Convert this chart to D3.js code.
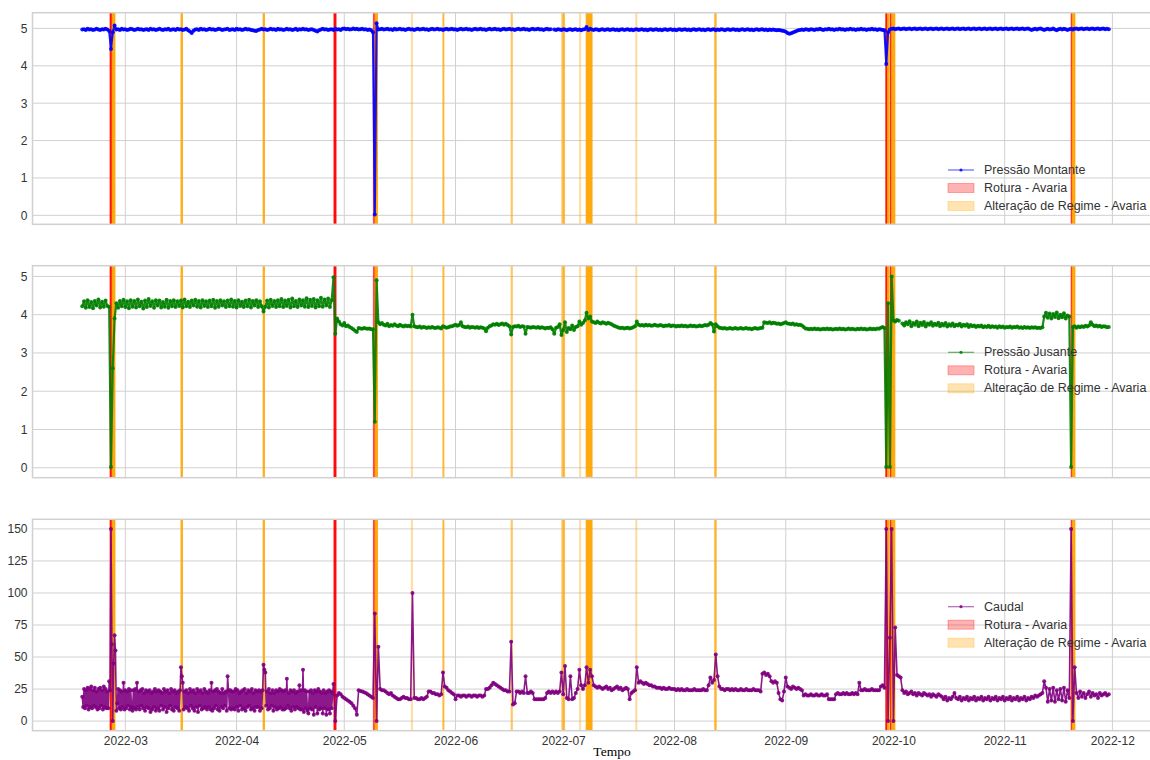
<!DOCTYPE html>
<html>
<head>
<meta charset="utf-8">
<script src="https://cdn.jsdelivr.net/npm/d3@7"></script>
<style>
  html, body { margin: 0; padding: 0; background: #ffffff; }
  svg { display: block; }
</style>
</head>
<body>
<svg id="chart" width="1150" height="760"></svg>
<script>
// Pressões: leituras de 12 em 12 horas a partir do primeiro registo
const inicio = "2022-02-17T00:00";
const passoHoras = 12;

// Pressão a montante (bar), uma linha por semana
const pressaoMontante = [
  4.97,4.98,4.96,4.99,4.97,4.98,4.96,4.97,4.99,4.97,4.96,4.98,4.97,4.99,
  4.97,4.93,4.45,4.90,5.08,4.97,4.98,4.96,4.99,4.97,4.98,4.96,4.97,4.99,
  4.98,4.96,4.97,4.99,4.97,4.98,4.96,4.97,4.98,4.96,4.99,4.97,4.98,4.96,
  4.97,4.99,4.97,4.96,4.98,4.97,4.99,4.96,4.97,4.98,4.96,4.99,4.97,4.98,
  4.96,4.97,4.99,4.95,4.92,4.88,4.94,4.97,4.98,4.96,4.99,4.97,4.98,4.96,
  4.97,4.99,4.97,4.98,4.96,4.97,4.99,4.98,4.96,4.97,4.98,4.99,4.96,4.97,
  4.98,4.96,4.99,4.97,4.98,4.96,4.97,4.99,4.97,4.98,4.96,4.95,4.94,4.93,
  4.96,4.97,4.99,4.97,4.98,4.96,4.97,4.99,4.97,4.98,4.96,4.99,4.97,4.98,
  4.96,4.97,4.99,4.97,4.98,4.96,4.97,4.99,4.96,4.98,4.97,4.99,4.97,4.98,
  4.96,4.97,4.98,4.96,4.94,4.92,4.95,4.97,4.99,4.97,4.98,4.96,4.97,4.98,
  4.96,4.99,4.97,4.98,4.96,4.99,5.00,4.98,4.99,4.97,4.98,5.00,4.98,4.99,
  4.97,4.98,4.99,4.97,4.98,4.96,4.97,4.95,4.90,0.02,5.14,4.97,4.98,4.99,
  4.97,4.98,4.99,4.97,4.98,4.96,4.99,4.97,4.98,4.99,4.97,4.98,4.96,4.98,
  4.99,4.97,4.98,4.96,4.98,4.99,4.97,4.98,4.99,4.97,4.98,4.96,4.98,4.99,
  4.97,4.98,4.99,4.97,4.98,4.96,4.98,4.99,4.97,4.98,4.99,4.97,4.98,4.96,
  4.98,4.99,4.97,4.98,4.99,4.97,4.98,4.96,4.98,4.99,4.97,4.98,4.99,4.97,
  4.98,4.96,4.98,4.99,4.97,4.98,4.99,4.97,4.98,4.96,4.98,4.99,4.97,4.98,
  4.99,4.97,4.98,4.96,4.98,4.99,4.97,4.98,4.99,4.97,4.98,4.96,4.98,4.99,
  4.97,4.98,4.99,4.97,4.98,4.96,4.98,4.99,4.97,4.98,null,4.97,4.96,4.98,
  4.97,4.96,4.98,4.97,4.95,4.97,4.98,4.96,4.97,4.98,4.96,4.97,4.95,4.97,
  4.98,5.04,4.96,4.99,4.97,4.96,4.98,4.97,4.95,4.97,4.98,4.96,4.97,4.98,
  4.96,4.97,4.98,4.96,4.97,4.95,4.97,4.98,4.96,4.97,4.98,4.96,4.97,4.95,
  4.97,4.98,4.96,4.97,4.98,4.96,4.97,4.95,4.97,4.98,4.96,4.97,4.98,4.96,
  4.97,4.95,4.97,4.98,4.96,4.97,4.98,4.96,4.97,4.95,4.97,4.98,4.96,4.97,
  4.98,4.96,4.97,4.95,4.97,4.98,4.96,4.97,4.98,4.96,4.97,4.95,4.97,4.98,
  4.96,4.97,4.98,4.95,4.97,4.96,4.98,4.97,4.95,4.97,4.98,4.96,4.97,4.98,
  4.96,4.97,4.95,4.97,4.98,4.96,4.97,4.98,4.96,4.97,4.95,4.97,4.98,4.96,
  4.97,4.98,4.96,4.97,4.95,4.97,4.96,4.97,4.96,4.95,4.96,4.95,4.94,4.93,
  4.91,4.88,4.86,4.87,4.89,4.91,4.93,4.95,4.96,4.97,4.96,4.98,4.97,4.96,
  4.98,4.97,4.96,4.98,4.97,4.99,4.97,4.96,4.98,4.97,4.99,4.97,4.98,4.96,
  4.98,4.97,4.99,4.97,4.98,4.96,4.98,4.97,4.99,4.97,4.98,4.96,4.98,4.97,
  4.99,4.97,4.98,4.96,4.98,4.97,4.99,4.97,4.98,4.96,4.98,4.97,4.96,4.95,
  4.05,4.90,4.97,4.99,5.00,4.98,4.99,5.00,4.98,4.99,5.00,4.98,4.99,5.00,
  4.98,4.99,5.00,4.98,4.99,5.00,4.98,4.99,5.00,4.98,4.99,5.00,4.98,4.99,
  5.00,4.98,4.99,5.00,4.98,4.99,5.00,4.98,4.99,5.00,4.98,4.99,5.00,4.98,
  4.99,5.00,4.98,4.99,5.00,4.98,4.99,5.00,4.98,4.99,5.00,4.98,4.99,5.00,
  4.98,4.99,5.00,4.98,4.99,5.00,4.98,4.99,5.00,4.98,4.99,5.00,4.98,4.99,
  5.00,4.98,4.99,5.00,4.98,4.99,5.00,4.98,4.99,5.00,4.98,4.96,4.98,4.99,
  4.97,4.99,5.00,4.98,4.96,4.98,4.99,4.97,4.98,5.00,4.97,4.95,4.98,4.99,
  4.97,4.99,4.98,4.96,4.98,4.99,4.97,4.99,5.00,4.98,4.99,5.00,4.98,4.99,
  5.00,4.98,4.99,5.00,4.98,4.99,5.00,4.98,4.99,5.00,4.98,4.99,4.98
];

// Pressão a jusante (bar)
const pressaoJusante = [
  4.22,4.35,4.18,4.38,4.20,4.33,4.17,4.36,4.24,4.40,4.19,4.34,4.21,4.37,
  4.23,4.20,0.02,2.60,3.90,4.30,4.18,4.36,4.22,4.39,4.20,4.35,4.17,4.38,
  4.21,4.36,4.19,4.40,4.22,4.34,4.16,4.37,4.20,4.41,4.23,4.35,4.18,4.38,
  4.24,4.37,4.19,4.33,4.21,4.39,4.18,4.36,4.22,4.38,4.20,4.35,4.23,4.37,
  4.19,4.40,4.22,4.34,4.20,4.37,4.24,4.39,4.21,4.36,4.19,4.38,4.23,4.35,
  4.20,4.37,4.22,4.39,4.18,4.36,4.21,4.38,4.24,4.35,4.20,4.37,4.22,4.40,
  4.21,4.36,4.19,4.38,4.23,4.34,4.20,4.37,4.22,4.39,4.19,4.36,4.24,4.38,
  4.20,4.35,4.22,4.08,4.21,4.37,4.19,4.39,4.23,4.36,4.20,4.38,4.22,4.41,
  4.20,4.37,4.23,4.39,4.19,4.42,4.22,4.36,4.20,4.40,4.24,4.38,4.21,4.43,
  4.20,4.39,4.23,4.41,4.19,4.38,4.22,4.44,4.21,4.40,4.24,4.42,4.20,4.38,
  4.98,3.50,3.90,3.82,3.75,3.72,3.78,3.70,3.72,3.68,3.65,3.62,3.58,3.55,
  3.65,3.64,3.63,3.65,3.64,3.63,3.64,3.62,3.62,1.20,4.90,3.80,3.75,3.78,
  3.74,3.72,3.76,3.70,3.73,3.71,3.75,3.72,3.70,3.74,3.71,3.69,3.72,3.70,
  3.71,3.69,4.00,3.70,3.68,3.67,3.69,3.66,3.68,3.67,3.65,3.67,3.66,3.68,
  3.66,3.65,3.67,3.66,3.64,3.70,3.68,3.66,3.67,3.69,3.70,3.72,3.74,3.71,
  3.73,3.80,3.70,3.68,3.67,3.69,3.66,3.68,3.67,3.66,3.68,3.65,3.67,3.66,
  3.64,3.57,3.66,3.70,3.72,3.75,3.74,3.76,3.73,3.75,3.77,3.74,3.76,3.73,
  3.70,3.48,3.68,3.70,3.69,3.71,3.68,3.70,3.69,3.50,3.68,3.67,3.66,3.68,
  3.67,3.66,3.68,3.65,3.67,3.66,3.64,3.66,3.65,3.67,3.62,3.50,3.66,3.68,
  3.75,3.47,3.60,3.80,3.55,3.65,3.62,3.72,3.60,3.68,3.70,3.82,3.74,3.78,
  3.85,4.05,3.90,3.95,3.82,3.80,3.78,3.82,3.79,3.77,3.80,3.78,3.76,3.79,
  3.77,3.75,3.72,3.70,3.68,3.66,3.65,3.66,3.64,3.65,3.66,3.64,3.65,3.67,
  3.70,3.82,3.74,3.72,3.73,3.71,3.74,3.72,3.73,3.71,3.72,3.74,3.72,3.71,
  3.73,3.72,3.70,3.72,3.71,3.73,3.70,3.72,3.71,3.69,3.71,3.70,3.72,3.70,
  3.71,3.69,3.70,3.72,3.70,3.71,3.69,3.70,3.72,3.70,3.71,3.73,3.72,3.74,
  3.78,3.75,3.56,3.75,3.70,3.66,3.65,3.64,3.65,3.63,3.64,3.65,3.63,3.64,
  3.65,3.63,3.64,3.65,3.63,3.64,3.65,3.63,3.64,3.62,3.64,3.65,3.63,3.64,
  3.65,3.66,3.80,3.79,3.78,3.80,3.77,3.79,3.78,3.76,3.77,3.75,3.76,3.78,
  3.80,3.77,3.76,3.75,3.77,3.74,3.75,3.73,3.74,3.72,3.68,3.64,3.63,3.62,
  3.63,3.62,3.64,3.62,3.63,3.61,3.62,3.63,3.62,3.64,3.62,3.63,3.61,3.62,
  3.63,3.62,3.64,3.62,3.63,3.61,3.62,3.64,3.62,3.63,3.62,3.61,3.63,3.62,
  3.64,3.62,3.63,3.61,3.62,3.64,3.62,3.63,3.62,3.64,3.63,3.66,3.68,3.65,
  0.02,4.30,0.02,5.00,3.85,3.82,3.86,3.84,null,3.77,3.72,3.80,3.75,3.83,
  3.70,3.78,3.74,3.82,3.70,3.79,3.73,3.81,3.69,3.77,3.74,3.80,3.71,3.76,
  3.73,3.79,3.70,3.76,3.72,3.78,3.69,3.75,3.71,3.77,3.70,3.74,3.72,3.76,
  3.69,3.74,3.71,3.75,3.68,3.73,3.70,3.72,3.68,3.71,3.69,3.72,3.67,3.70,
  3.68,3.71,3.67,3.70,3.68,3.69,3.66,3.70,3.67,3.69,3.66,3.68,3.67,3.69,
  3.66,3.68,3.67,3.69,3.66,3.67,3.65,3.68,3.66,3.67,3.65,3.67,3.66,3.67,
  3.65,3.66,3.65,3.67,3.95,4.05,3.92,4.03,3.90,4.02,3.94,4.06,3.91,4.00,
  3.93,4.04,3.90,3.98,3.95,0.02,3.68,3.70,3.66,3.69,3.67,3.70,3.68,3.71,
  3.69,3.72,3.80,3.74,3.70,3.72,3.69,3.71,3.68,3.70,3.69,3.67,3.68
];

// Caudal (m3/h): de 6 em 6 horas até 27/04 (bombagem intermitente)
const inicioCaudalFevAbr = "2022-02-17T00:00";
const passoCaudalFevAbr = 6;
const caudalFevAbr = [
  19,11,25,10,24,12,26,9,25,11,27,10,24,12,26,11,23,9,25,10,26,12,24,9,27,11,25,10,
  23,10,31,24,150,60,0,45,67,55,8,14,25,10,24,9,23,11,30,9,24,10,23,12,25,9,24,11,
  8,24,10,25,9,30,11,23,9,24,12,25,10,22,8,24,11,23,10,24,7,22,9,23,11,25,8,23,
  10,24,8,23,12,22,9,25,11,23,7,24,10,22,12,25,9,23,8,24,11,22,10,23,8,24,42,35,
  30,9,23,11,24,10,22,8,25,12,23,10,24,8,22,11,25,7,23,12,24,9,22,10,25,11,23,9,
  22,11,24,9,30,8,23,10,24,12,25,9,23,8,22,11,25,10,22,12,23,8,35,24,10,24,9,23,
  10,23,9,25,11,24,8,22,12,23,9,24,10,25,8,22,11,24,12,23,9,25,10,22,8,24,11,23,
  11,24,8,23,10,24,44,40,38,12,23,9,25,10,22,12,24,8,22,11,24,9,23,10,25,11,24,9,
  23,9,24,10,33,12,22,10,24,8,23,11,24,9,22,11,23,10,28,9,24,9,40,7,24,10,23,8,
  6,23,10,24,9,22,5,24,11,23,6,25,9,23,10,22,6,24,10,22,5,23,9,24,6,23,10,22
];
// ... e de 12 em 12 horas a partir de 28/04
const inicioCaudal = "2022-04-28T00:00";
const passoCaudal = 12;
const caudal = [
  29,0,20,22,21,19,18,17,16,15,14,12,10,5,
  24,23.5,23,22.5,22,21,20,19,18,84,0,58,25,24,
  24,23,22,21,22,20,19,18,17,17,18,19,18,18,
  17,17,100,18,18,17,17,18,17,18,19,23,23,22,
  22,21,21,20,21,38,27,26,24,23,22,21,17,20,
  20,19,20,20,19,20,20,19,20,20,19,20,20,19,
  20,25,25,26,28,30,29,28,27,26,25,24,24,23,
  23,62,13,14,23,23,22,23,22,35,22,22,23,22,
  17,17,17,17,17,17,18,22,23,22,23,22,23,22,
  23,38,21,43,18,17,35,17,18,22,25,40,28,25,
  28,42,30,40,35,28,27,26,27,26,25,26,27,25,
  26,24,25,26,27,25,26,24,25,26,25,17,22,23,
  24,42,30,31,30,29,30,29,28,28,27,27,26,26,
  26,25,26,25,25,26,25,25,25,24,25,24,25,24,
  24,25,24,24,24,25,24,24,24,24,25,24,24,28,
  34,30,32,52,35,27,25,25,24,25,25,24,25,24,
  25,24,24,25,24,24,25,24,24,24,25,24,24,24,
  23,37,38,36,37,35,31,30,31,30,22,17,16,23,
  34,27,26,25,27,26,25,26,25,24,20,21,20,20,
  21,20,20,21,20,20,21,20,20,21,17,17,17,17,
  21,22,21,21,22,21,22,21,21,22,21,22,21,30,
  24,24,25,24,24,24,25,24,24,24,24,27,28,26,
  150,0,65,150,0,73,36,35,34,24,22,23,21,22,
  23,21,22,20,22,21,20,22,21,20,21,19,21,20,
  19,21,20,19,17,19,16,18,17,19,22,18,17,19,
  16,18,17,19,16,18,17,19,16,18,17,19,16,18,
  17,19,16,18,17,19,16,18,17,19,16,18,17,19,
  16,18,17,19,16,18,17,19,16,18,17,19,18,20,
  19,20,21,22,31,26,15,25,16,26,15,24,17,25,
  16,26,15,24,18,150,0,42,22,18,23,19,22,18,
  21,23,19,22,20,21,18,22,20,21,22,20,21
];

// Avarias: [início, fim, número de registos sobrepostos]
const rotura = [
  ["2022-02-24T18:00", "2022-02-25T07:00", 8],
  ["2022-04-28T03:00", "2022-04-28T17:00", 8],
  ["2022-05-09T02:00", "2022-05-09T14:00", 3],
  ["2022-09-28T21:00", "2022-09-29T07:00", 8],
  ["2022-09-30T02:00", "2022-09-30T12:00", 5],
  ["2022-11-19T12:00", "2022-11-19T19:00", 5]
];
const alteracaoRegime = [
  ["2022-02-25T07:00", "2022-02-26T03:00", 8],
  ["2022-03-16T12:00", "2022-03-16T23:00", 6],
  ["2022-04-08T09:00", "2022-04-08T19:00", 6],
  ["2022-05-09T14:00", "2022-05-10T07:00", 8],
  ["2022-05-19T16:00", "2022-05-19T23:00", 1],
  ["2022-05-28T11:00", "2022-05-28T19:00", 3],
  ["2022-06-16T11:00", "2022-06-16T20:00", 2],
  ["2022-06-30T14:00", "2022-06-30T21:00", 2],
  ["2022-07-01T02:00", "2022-07-01T10:00", 3],
  ["2022-07-05T13:00", "2022-07-05T20:00", 1],
  ["2022-07-07T09:00", "2022-07-09T01:00", 8],
  ["2022-07-21T05:00", "2022-07-21T12:00", 1],
  ["2022-08-12T05:00", "2022-08-12T15:00", 4],
  ["2022-09-29T07:00", "2022-09-29T19:00", 8],
  ["2022-09-30T12:00", "2022-10-01T10:00", 8],
  ["2022-11-19T19:00", "2022-11-20T14:00", 8]
];

// Marcas dos eixos
const ticksMeses = ["2022-03-01","2022-04-01","2022-05-01","2022-06-01","2022-07-01",
                    "2022-08-01","2022-09-01","2022-10-01","2022-11-01","2022-12-01"];
const ticksPressao = [0, 1, 2, 3, 4, 5];
const ticksCaudal = [0, 25, 50, 75, 100, 125, 150];
const limitesTempo = ["2022-02-03T03:20", "2022-12-13T17:00"];

const nomesLegenda = ["Rotura - Avaria", "Alteração de Regime - Avaria"];

// ---------------------------------------------------------------------
const parse = d3.timeParse("%Y-%m-%dT%H:%M");
const parseDia = d3.timeParse("%Y-%m-%d");

// transforma uma lista de valores em pontos {t, v}
const serieTemporal = (valores, arranque, passo) => {
  const t0 = parse(arranque);
  return valores.map((v, i) => ({ t: d3.timeHour.offset(t0, passo * i), v }));
};

const serieMontante = serieTemporal(pressaoMontante, inicio, passoHoras);
const serieJusante = serieTemporal(pressaoJusante, inicio, passoHoras);
const serieCaudal = serieTemporal(caudalFevAbr, inicioCaudalFevAbr, passoCaudalFevAbr)
  .concat(serieTemporal(caudal, inicioCaudal, passoCaudal));

const svg = d3.select("#chart");
const fonte = "'Liberation Sans', Arial, Helvetica, sans-serif";
const corGrelha = "#d0d0d0";
const corTexto = "#333333";

const esquerda = 32.5, direita = 1158;
const x = d3.scaleTime()
  .domain(limitesTempo.map(parse))
  .range([esquerda, direita]);

const paineis = [
  { topo: 12.7, base: 224.3, dominio: [-0.24, 5.42], ticks: ticksPressao, espessura: 2.2,
    serie: serieMontante, cor: "#0000ff", nome: "Pressão Montante", legendaY: 157.3 },
  { topo: 265.7, base: 477.7, dominio: [-0.26, 5.28], ticks: ticksPressao, espessura: 2.2,
    serie: serieJusante, cor: "#008000", nome: "Pressão Jusante", legendaY: 86.6 },
  { topo: 519.3, base: 730.7, dominio: [-7.5, 157.5], ticks: ticksCaudal, espessura: 1.6,
    serie: serieCaudal, cor: "#800080", nome: "Caudal", legendaY: 87.4 }
];

const opacidadeEmpilhada = n => 1 - Math.pow(0.7, n);

paineis.forEach((p, k) => {
  const y = d3.scaleLinear().domain(p.dominio).range([p.base, p.topo]);
  const g = svg.append("g");

  const clipId = "clip" + k;
  svg.append("clipPath").attr("id", clipId)
    .append("rect")
    .attr("x", esquerda).attr("y", p.topo)
    .attr("width", direita - esquerda).attr("height", p.base - p.topo);

  // grelha
  g.append("g").selectAll("line").data(p.ticks).join("line")
    .attr("x1", esquerda).attr("x2", direita)
    .attr("y1", d => y(d)).attr("y2", d => y(d))
    .attr("stroke", corGrelha).attr("stroke-width", 1);
  g.append("g").selectAll("line").data(ticksMeses).join("line")
    .attr("x1", d => x(parseDia(d))).attr("x2", d => x(parseDia(d)))
    .attr("y1", p.topo).attr("y2", p.base)
    .attr("stroke", corGrelha).attr("stroke-width", 1);

  // faixas das avarias
  const faixas = g.append("g").attr("clip-path", `url(#${clipId})`);
  const desenharFaixas = (lista, cor) => {
    faixas.append("g").selectAll("rect").data(lista).join("rect")
      .attr("x", d => x(parse(d[0])))
      .attr("width", d => Math.max(1.2, x(parse(d[1])) - x(parse(d[0]))))
      .attr("y", p.topo).attr("height", p.base - p.topo)
      .attr("fill", cor)
      .attr("fill-opacity", d => opacidadeEmpilhada(d[2]))
      .attr("stroke", cor)
      .attr("stroke-opacity", d => opacidadeEmpilhada(d[2]))
      .attr("stroke-width", 0.8);
  };
  desenharFaixas(rotura, "#ff0000");
  desenharFaixas(alteracaoRegime, "#ffa500");

  // série
  const linha = d3.line()
    .defined(d => d.v !== null)
    .x(d => x(d.t)).y(d => y(d.v));
  const gs = g.append("g").attr("clip-path", `url(#${clipId})`);
  gs.append("path").datum(p.serie)
    .attr("d", linha)
    .attr("fill", "none")
    .attr("stroke", p.cor)
    .attr("stroke-width", p.espessura)
    .attr("stroke-opacity", 0.9)
    .attr("stroke-linejoin", "round");
  gs.append("g").selectAll("circle").data(p.serie.filter(d => d.v !== null)).join("circle")
    .attr("cx", d => x(d.t)).attr("cy", d => y(d.v))
    .attr("r", 2)
    .attr("fill", p.cor)
    .attr("fill-opacity", 0.9);

  // moldura
  g.append("rect")
    .attr("x", esquerda).attr("y", p.topo)
    .attr("width", direita - esquerda).attr("height", p.base - p.topo)
    .attr("fill", "none").attr("stroke", corGrelha).attr("stroke-width", 1.5);

  // eixo y
  const eixoY = d3.axisLeft(y).tickValues(p.ticks).tickSize(0).tickPadding(5)
    .tickFormat(d3.format("d"));
  const gy = g.append("g").attr("transform", `translate(${esquerda},0)`).call(eixoY);
  gy.select(".domain").remove();
  gy.selectAll("text").attr("font-family", fonte).attr("font-size", 12).attr("fill", corTexto);

  // legenda
  const lx = 948, lw = 26, tx = 984, passo = 18;
  const ly = p.topo + p.legendaY;
  const leg = g.append("g");
  leg.append("line").attr("x1", lx).attr("x2", lx + lw).attr("y1", ly).attr("y2", ly)
    .attr("stroke", p.cor).attr("stroke-width", 1.2).attr("stroke-opacity", 0.6);
  leg.append("circle").attr("cx", lx + lw / 2).attr("cy", ly).attr("r", 1.6)
    .attr("fill", p.cor).attr("fill-opacity", 0.85);
  [["#ff0000", 1], ["#ffa500", 2]].forEach(([cor, j]) => {
    leg.append("rect")
      .attr("x", lx).attr("y", ly + passo * j - 4.5)
      .attr("width", lw).attr("height", 9)
      .attr("fill", cor).attr("fill-opacity", 0.3)
      .attr("stroke", cor).attr("stroke-opacity", 0.3).attr("stroke-width", 1);
  });
  leg.selectAll("text").data([p.nome, ...nomesLegenda]).join("text")
    .attr("x", tx).attr("y", (d, j) => ly + passo * j)
    .attr("dominant-baseline", "central")
    .attr("font-family", fonte).attr("font-size", 12.5).attr("fill", corTexto)
    .text(d => d);

  // eixo x (só no último painel)
  if (k === paineis.length - 1) {
    const eixoX = d3.axisBottom(x).tickValues(ticksMeses.map(parseDia))
      .tickSize(0).tickPadding(6).tickFormat(d3.timeFormat("%Y-%m"));
    const gx = g.append("g").attr("transform", `translate(0,${p.base})`).call(eixoX);
    gx.select(".domain").remove();
    gx.selectAll("text").attr("font-family", fonte).attr("font-size", 12).attr("fill", corTexto);
  }
});

svg.append("text")
  .attr("x", 612).attr("y", 756)
  .attr("text-anchor", "middle")
  .attr("font-family", "'Liberation Serif', 'Times New Roman', serif")
  .attr("font-size", 13.5).attr("fill", "#000")
  .text("Tempo");
</script>
</body>
</html>
